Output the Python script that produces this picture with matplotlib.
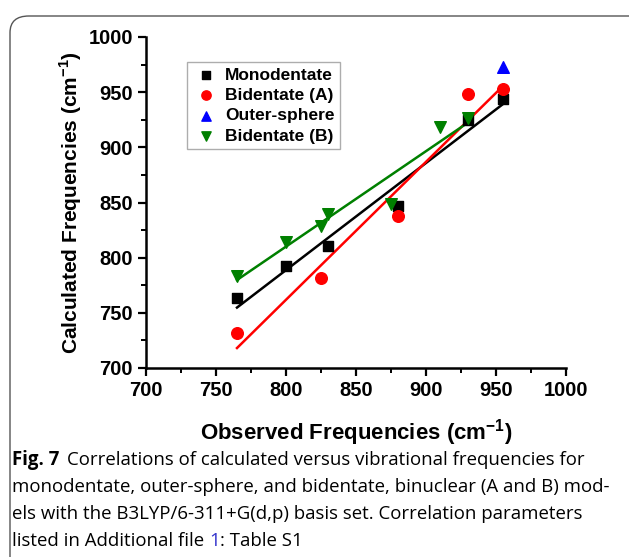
import matplotlib.pyplot as plt
import numpy as np
from matplotlib.patches import FancyBboxPatch
from matplotlib.ticker import MultipleLocator

plt.rcParams['font.family'] = ['Liberation Sans', 'DejaVu Sans']
plt.rcParams['mathtext.fontset'] = 'custom'
plt.rcParams['mathtext.rm'] = 'Liberation Sans:bold'
plt.rcParams['mathtext.bf'] = 'Liberation Sans:bold'

# observed vs calculated frequencies (cm-1)
mono_x = [765, 800, 830, 880, 930, 955]
mono_y = [763, 792, 811, 847, 925, 944]
bidA_x = [765, 825, 880, 930, 955]
bidA_y = [732, 782, 838, 948, 953]
outer_x = [955]
outer_y = [973]
bidB_x = [765, 800, 825, 830, 875, 910, 930]
bidB_y = [783, 814, 829, 840, 849, 918, 927]

fig = plt.figure(figsize=(6.29, 5.57), dpi=100)

# rounded frame around the figure (right and bottom run off the page)
frame = FancyBboxPatch((10/629, -0.05), 1.2, 1 - 16/557 + 0.05,
                       boxstyle="round,pad=0,rounding_size=0.03",
                       transform=fig.transFigure, fc='none', ec='#555555',
                       lw=1.0, clip_on=False)
fig.patches.append(frame)

ax = fig.add_axes([146/629, 1 - 368/557, 420/629, 331/557])

ax.scatter(mono_x, mono_y, marker='s', s=55, c='black', label='Monodentate', zorder=3)
ax.scatter(bidA_x, bidA_y, marker='o', s=70, c='#ff0000', label='Bidentate (A)', zorder=3)
ax.scatter(outer_x, outer_y, marker='^', s=70, c='#0000ff', label='Outer-sphere', zorder=3)
ax.scatter(bidB_x, bidB_y, marker='v', s=70, c='#008000', label='Bidentate (B)', zorder=3)

# linear fits
for xs, ys, col in [(mono_x, mono_y, 'black'), (bidA_x, bidA_y, '#ff0000'),
                    (bidB_x, bidB_y, '#008000')]:
    p = np.polyfit(xs, ys, 1)
    xx = np.array([min(xs), max(xs)])
    ax.plot(xx, np.polyval(p, xx), color=col, lw=1.8, zorder=2)

ax.set_xlim(700, 1000)
ax.set_ylim(700, 1000)
ax.xaxis.set_major_locator(MultipleLocator(50))
ax.yaxis.set_major_locator(MultipleLocator(50))
ax.xaxis.set_minor_locator(MultipleLocator(25))
ax.yaxis.set_minor_locator(MultipleLocator(25))
ax.spines['top'].set_visible(False)
ax.spines['right'].set_visible(False)
for s in ['left', 'bottom']:
    ax.spines[s].set_linewidth(1.8)
ax.tick_params(which='major', direction='out', length=6, width=1.6, labelsize=14.5)
ax.tick_params(which='minor', direction='out', length=3.5, width=1.4)
for lab in ax.get_xticklabels() + ax.get_yticklabels():
    lab.set_fontweight('bold')

ax.set_xlabel('Observed Frequencies (cm$^{-1}$)', fontsize=16, fontweight='bold', labelpad=12)
ax.set_ylabel('Calculated Frequencies (cm$^{-1}$)', fontsize=15, fontweight='bold')
ax.yaxis.set_label_coords(-62/420, 0.5)

leg = ax.legend(loc='upper left', bbox_to_anchor=(0.098, 0.924), frameon=True,
                fancybox=False, edgecolor='#999999', prop={'weight': 'bold', 'size': 12.5},
                handletextpad=0.3, borderpad=0.3, labelspacing=0.3, handlelength=1.6,
                borderaxespad=0, scatterpoints=1, markerscale=0.8)
leg.get_frame().set_linewidth(1.0)

# caption
cap_font = ['Open Sans', 'DejaVu Sans']
fs = 13.4
fig.canvas.draw()
r = fig.canvas.get_renderer()
x0 = 12/629
t1 = fig.text(x0, 1 - 460/557, 'Fig. 7', fontsize=fs, fontweight='bold', family=cap_font, va='center')
bb = t1.get_window_extent(r)
fig.text((bb.x1 + 8)/629, 1 - 460/557,
         'Correlations of calculated versus vibrational frequencies for',
         fontsize=fs, family=cap_font, va='center')
fig.text(x0, 1 - 487/557,
         'monodentate, outer-sphere, and bidentate, binuclear (A and B) mod-',
         fontsize=fs, family=cap_font, va='center')
fig.text(x0, 1 - 514/557,
         'els with the B3LYP/6-311+G(d,p) basis set. Correlation parameters',
         fontsize=fs, family=cap_font, va='center')
t4 = fig.text(x0, 1 - 541/557, 'listed in Additional file ', fontsize=fs, family=cap_font, va='center')
bb = t4.get_window_extent(r)
t5 = fig.text(bb.x1/629, 1 - 541/557, '1', fontsize=fs, family=cap_font, va='center', color='#3333cc')
bb = t5.get_window_extent(r)
fig.text(bb.x1/629, 1 - 541/557, ': Table S1', fontsize=fs, family=cap_font, va='center')

fig.savefig('out.png', dpi=100)
